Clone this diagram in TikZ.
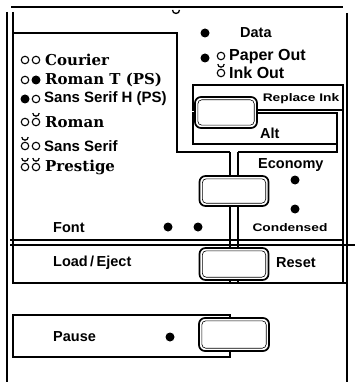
\documentclass[tikz,border=0pt]{standalone}
\usepackage{fontspec}
\setmainfont{DejaVu Serif}
\setsansfont{Liberation Sans}
\newfontfamily\widesans[FakeStretch=1.25]{Liberation Sans}
\usetikzlibrary{positioning}

\tikzset{
  rule/.style={line width=1.2pt},
  keycap/.style={draw,fill=white,line width=1.7pt,rounded corners=6pt,inner sep=0pt,
    path picture={\draw[line width=.6pt,rounded corners=4pt]
      ([shift={(2.8pt,-2.8pt)}]path picture bounding box.north west) rectangle
      ([shift={(-2.8pt,2.8pt)}]path picture bounding box.south east);}},
  lampon/.style={circle,fill,inner sep=0pt,minimum size=9pt},
  lampoff/.style={circle,draw,line width=1.1pt,inner sep=0pt,minimum size=7.5pt},
  lampblink/.style={lampoff},
  lbl/.style={font=\sffamily\bfseries\fontsize{14.5}{15}\selectfont,inner sep=0pt,anchor=west},
  smalllbl/.style={font=\widesans\bfseries\fontsize{11}{12}\selectfont,inner sep=0pt},
  fontname/.style={font=\bfseries\fontsize{15}{15}\selectfont,inner sep=0pt,anchor=west},
  sansname/.style={font=\sffamily\bfseries\fontsize{15}{15}\selectfont,inner sep=0pt,anchor=west}
}

\begin{document}
\begin{tikzpicture}[x=1pt,y=-1pt]
\useasboundingbox (0,0) rectangle (360,382);
% frame
\draw[line width=2.5pt] (11,7)--(343,7);
\draw[rule] (7,12)--(7,382);\draw[rule] (13,12)--(13,283)--(347,283);
\draw[rule] (347,13)--(347,382);\draw[rule] (343,85)--(343,283);
\draw[rule] (10,240)--(343,240);\draw[rule] (10,245)--(355,245);
\draw[line width=1.3pt] (172.5,10) arc[start angle=180,end angle=360,radius=3.5pt];
% font box and key boxes
\coordinate (bar) at (234,152);
\draw[rule] (13,33)--(177,33)--(177,152)--(230,152);\draw[rule] (238,152)--(337,152)--(337,144);
\draw[rule] (193,85) rectangle (343,110);\draw[rule] (193,113) rectangle (337,144);
\draw[rule] (230,318)--(230,315)--(13,315)--(13,357)--(230,357)--(230,351);
% keys
\node[keycap,minimum width=62pt,minimum height=31pt] (repl) at (226,112.5) {};
\node[keycap,minimum width=69pt,minimum height=30pt] (eco) at (234,191) {};
\node[keycap,minimum width=69pt,minimum height=32pt] (reset) at (234,264) {};
\node[keycap,minimum width=70pt,minimum height=33pt] (pause) at (234,334.5) {};
\foreach \s in {-4,4}{
  \draw[rule] ([xshift=\s pt]bar)--([xshift=\s pt]eco.north);
  \draw[rule] ([xshift=\s pt]eco.south)--([xshift=\s pt]reset.north);
  \draw[rule] ([xshift=\s pt]reset.south)--++(0,3);}
% lamps
\node[lampon] (ldata) at (205,33) {};
\node[lampon] (lpaper) at (205,58) {};\node[lampoff] (opaper) at (221,56) {};
\node[lampblink] (oink) at (221,73) {};
\node[lampon] (leco) at (295,180) {};\node[lampon] (lcond) at (295,209) {};
\node[lampon] (lfonta) at (168,227) {};\node[lampon] (lfontb) at (198,227) {};
\node[lampon] (lpause) at (170,337) {};
% font list
\foreach \i/\y/\sa/\sb in {1/60/lampoff/lampoff,2/80/lampoff/lampon,3/99/lampon/lampoff,
  4/122/lampoff/lampblink,5/146/lampblink/lampoff,6/167/lampblink/lampblink}{
  \node[\sa] (f\i a) at (25,\y) {};\node[\sb] (f\i b) at (36,\y) {};}
\foreach \n in {oink,f4b,f5a,f6a,f6b}{
  \draw[line width=1.2pt] ([shift={(-3.2pt,9pt)}]\n.center) arc[start angle=180,end angle=360,radius=3.2pt];}
\node[fontname] (courier) at (45,60) {Courier};
\node[fontname] (romant) at (45,80) {Roman T (PS)};
\node[sansname] (sansh) at (44,99) {Sans Serif H (PS)};
\node[fontname] (roman) at (45,122) {Roman};
\node[sansname] (sans) at (44,146) {Sans Serif};
\node[fontname] (prestige) at (45,167) {Prestige};
% labels
\node[lbl] (data) at (240,33) {Data};
\node[lbl,font=\sffamily\bfseries\fontsize{16}{16}\selectfont] (paper) at (229,57) {Paper Out};
\node[lbl,font=\sffamily\bfseries\fontsize{16}{16}\selectfont] (ink) at (229,73) {Ink Out};
\node[smalllbl] (replace) at (301,99) {Replace Ink};
\node[lbl] (alt) at (260,133) {Alt};
\node[lbl] (economy) at (258,165) {Economy};
\node[smalllbl] (condensed) at (290,228) {Condensed};
\node[lbl] (font) at (53,228) {Font};
\node[lbl] (load) at (53,263) {Load\,/\,Eject};
\node[lbl] (resetlbl) at (276,263) {Reset};
\node[lbl] (pauselbl) at (53,337) {Pause};
\end{tikzpicture}
\end{document}
